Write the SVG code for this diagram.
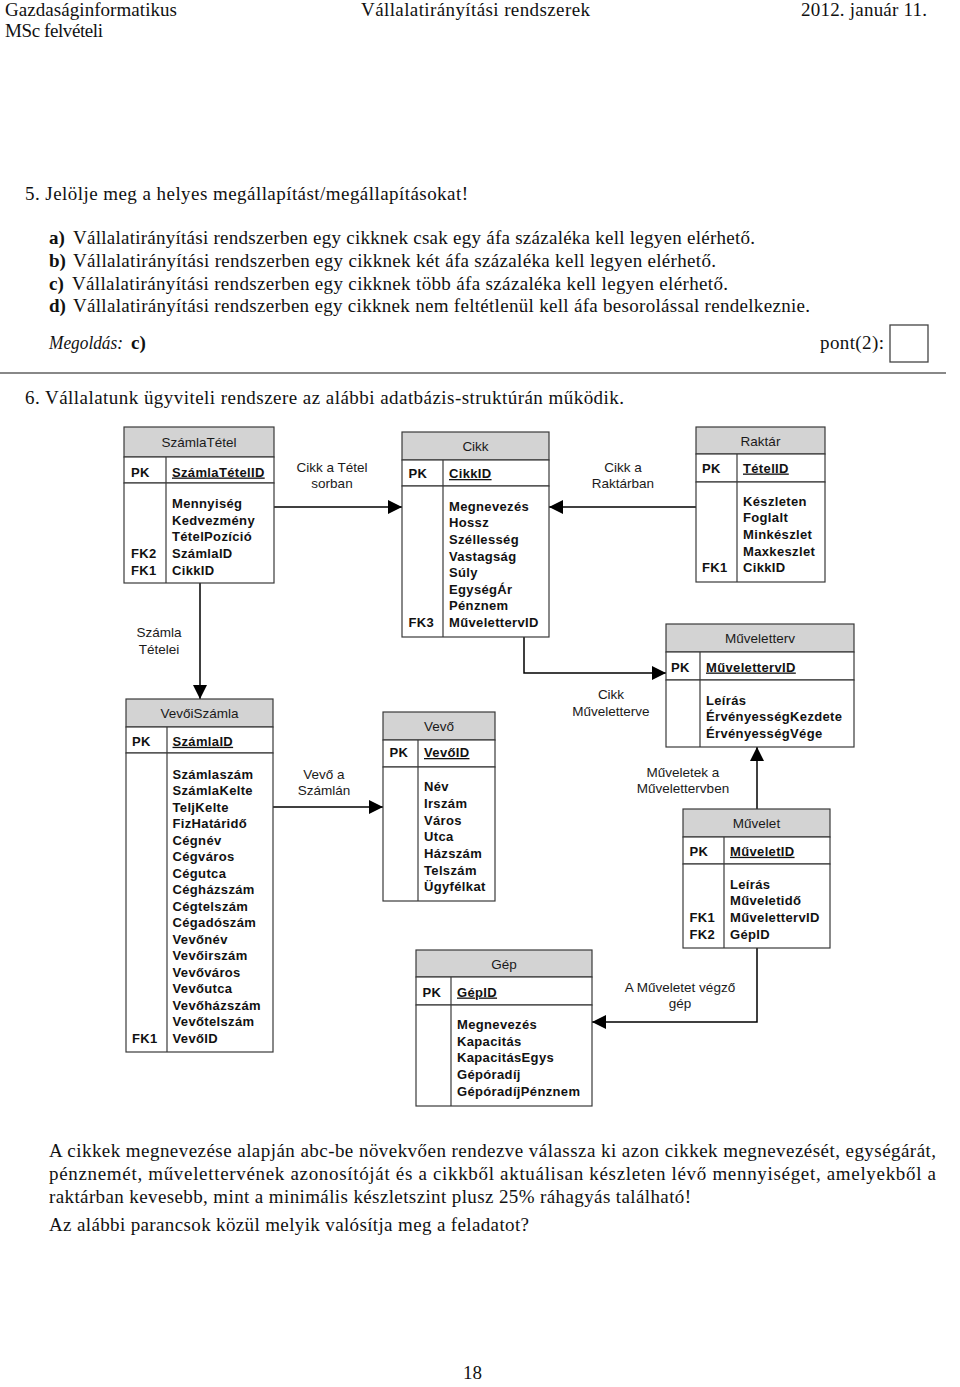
<svg xmlns="http://www.w3.org/2000/svg" width="960" height="1387" viewBox="0 0 960 1387">
<style>
.s{font-family:"Liberation Serif","Times New Roman",serif;font-size:19px;fill:#111}
.sb{font-weight:bold}
.si{font-style:italic}
.hd{fill:#d3d3d3;stroke:#3a3a3a;stroke-width:1.2}
.bx{fill:#fff;stroke:#3a3a3a;stroke-width:1.2}
.dv{stroke:#3a3a3a;stroke-width:1.2}
.ti{font-family:"Liberation Sans",Arial,sans-serif;font-size:13.5px;text-anchor:middle;fill:#1a1a1a}
.a{font-family:"Liberation Sans",Arial,sans-serif;font-size:13px;font-weight:bold;letter-spacing:0.35px;fill:#111}
.u{text-decoration:underline}
.lb{font-family:"Liberation Sans",Arial,sans-serif;font-size:13.5px;text-anchor:middle;fill:#1a1a1a}
.cn{fill:none;stroke:#000;stroke-width:1.5}
</style>
<defs>
<marker id="arr" markerUnits="userSpaceOnUse" markerWidth="14" markerHeight="14" refX="14" refY="7" orient="auto"><path d="M0,0 L14,7 L0,14 z" fill="#000"/></marker>
</defs>
<rect width="960" height="1387" fill="#fff"/>

<g id="page-text">
<text class="s" x="5" y="16" textLength="172" lengthAdjust="spacing">Gazdaságinformatikus</text>
<text class="s" x="5" y="37" textLength="98" lengthAdjust="spacing">MSc felvételi</text>
<text class="s" x="361" y="16" textLength="229" lengthAdjust="spacing">Vállalatirányítási rendszerek</text>
<text class="s" x="801" y="16" textLength="126" lengthAdjust="spacing">2012. január 11.</text>

<text class="s" x="25" y="200" textLength="443" lengthAdjust="spacing">5. Jelölje meg a helyes megállapítást/megállapításokat!</text>
<text class="s sb" x="49" y="244">a)</text>
<text class="s" x="73" y="244" textLength="682" lengthAdjust="spacing">Vállalatirányítási rendszerben egy cikknek csak egy áfa százaléka kell legyen elérhető.</text>
<text class="s sb" x="49" y="267">b)</text>
<text class="s" x="73" y="267" textLength="643" lengthAdjust="spacing">Vállalatirányítási rendszerben egy cikknek két áfa százaléka kell legyen elérhető.</text>
<text class="s sb" x="49" y="290">c)</text>
<text class="s" x="72" y="290" textLength="656" lengthAdjust="spacing">Vállalatirányítási rendszerben egy cikknek több áfa százaléka kell legyen elérhető.</text>
<text class="s sb" x="49" y="312">d)</text>
<text class="s" x="73" y="312" textLength="737" lengthAdjust="spacing">Vállalatirányítási rendszerben egy cikknek nem feltétlenül kell áfa besorolással rendelkeznie.</text>
<text class="s si" x="49" y="349" textLength="74" lengthAdjust="spacingAndGlyphs">Megoldás:</text>
<text class="s sb" x="131" y="349">c)</text>
<text class="s" x="820" y="349" textLength="64" lengthAdjust="spacing">pont(2):</text>
<rect x="890" y="325" width="38" height="37" fill="#fff" stroke="#444" stroke-width="1.3"/>
<line x1="0" y1="373" x2="946" y2="373" stroke="#888" stroke-width="2"/>
<text class="s" x="25" y="404" textLength="599" lengthAdjust="spacing">6. Vállalatunk ügyviteli rendszere az alábbi adatbázis-struktúrán működik.</text>

<text class="s" x="49" y="1157" textLength="887" lengthAdjust="spacing">A cikkek megnevezése alapján abc-be növekvően rendezve válassza ki azon cikkek megnevezését, egységárát,</text>
<text class="s" x="49" y="1180" textLength="887" lengthAdjust="spacing">pénznemét, művelettervének azonosítóját és a cikkből aktuálisan készleten lévő mennyiséget, amelyekből a</text>
<text class="s" x="49" y="1203" textLength="642" lengthAdjust="spacing">raktárban kevesebb, mint a minimális készletszint plusz 25% ráhagyás található!</text>
<text class="s" x="49" y="1231" textLength="480" lengthAdjust="spacing">Az alábbi parancsok közül melyik valósítja meg a feladatot?</text>
<text class="s" x="463" y="1379">18</text>
</g>

<g id="connectors">
<path class="cn" d="M274,507 H402" marker-end="url(#arr)"/>
<path class="cn" d="M696,507 H549" marker-end="url(#arr)"/>
<path class="cn" d="M524,637 V673 H666" marker-end="url(#arr)"/>
<path class="cn" d="M200,583 V699" marker-end="url(#arr)"/>
<path class="cn" d="M273,807 H383" marker-end="url(#arr)"/>
<path class="cn" d="M757,809 V747" marker-end="url(#arr)"/>
<path class="cn" d="M757,948 V1022 H592" marker-end="url(#arr)"/>
<text class="lb" x="332" y="471.5">Cikk a Tétel</text>
<text class="lb" x="332" y="487.5">sorban</text>
<text class="lb" x="623" y="471.5">Cikk a</text>
<text class="lb" x="623" y="487.5">Raktárban</text>
<text class="lb" x="159" y="636.5">Számla</text>
<text class="lb" x="159" y="654">Tételei</text>
<text class="lb" x="324" y="779">Vevő a</text>
<text class="lb" x="324" y="795">Számlán</text>
<text class="lb" x="611" y="699">Cikk</text>
<text class="lb" x="611" y="715.5">Műveletterve</text>
<text class="lb" x="683" y="776.5">Műveletek a</text>
<text class="lb" x="683" y="793">Művelettervben</text>
<text class="lb" x="680" y="992">A Műveletet végző</text>
<text class="lb" x="680" y="1007.5">gép</text>
</g>

<g id="szamlatetel">
<rect class="hd" x="124" y="427" width="150" height="30"/>
<rect class="bx" x="124" y="457" width="150" height="26"/>
<rect class="bx" x="124" y="483" width="150" height="100"/>
<line class="dv" x1="166" y1="457" x2="166" y2="583"/>
<text class="ti" x="199" y="446.5">SzámlaTétel</text>
<text class="a" x="131" y="476.5">PK</text>
<text class="a u" x="172" y="476.5">SzámlaTételID</text>
<text class="a" x="172" y="508">Mennyiség<tspan x="172" dy="16.7">Kedvezmény</tspan><tspan x="172" dy="16.7">TételPozíció</tspan><tspan x="172" dy="16.7">SzámlaID</tspan><tspan x="172" dy="16.7">CikkID</tspan></text>
<text class="a" x="131" y="558.1">FK2<tspan x="131" dy="16.7">FK1</tspan></text>
</g>

<g id="cikk">
<rect class="hd" x="402" y="432" width="147" height="28"/>
<rect class="bx" x="402" y="460" width="147" height="26"/>
<rect class="bx" x="402" y="486" width="147" height="151"/>
<line class="dv" x1="443" y1="460" x2="443" y2="637"/>
<text class="ti" x="475.5" y="450.5">Cikk</text>
<text class="a" x="408.5" y="478">PK</text>
<text class="a u" x="449" y="478">CikkID</text>
<text class="a" x="449" y="510.7">Megnevezés<tspan x="449" dy="16.62">Hossz</tspan><tspan x="449" dy="16.62">Széllesség</tspan><tspan x="449" dy="16.62">Vastagság</tspan><tspan x="449" dy="16.62">Súly</tspan><tspan x="449" dy="16.62">EgységÁr</tspan><tspan x="449" dy="16.62">Pénznem</tspan><tspan x="449" dy="16.62">MűvelettervID</tspan></text>
<text class="a" x="408.5" y="627">FK3</text>
</g>

<g id="raktar">
<rect class="hd" x="696" y="427" width="129" height="27"/>
<rect class="bx" x="696" y="454" width="129" height="28"/>
<rect class="bx" x="696" y="482" width="129" height="100"/>
<line class="dv" x1="737" y1="454" x2="737" y2="582"/>
<text class="ti" x="760.5" y="445.5">Raktár</text>
<text class="a" x="702" y="472.5">PK</text>
<text class="a u" x="743" y="472.5">TételID</text>
<text class="a" x="743" y="505.7">Készleten<tspan x="743" dy="16.67">Foglalt</tspan><tspan x="743" dy="16.67">Minkészlet</tspan><tspan x="743" dy="16.67">Maxkeszlet</tspan><tspan x="743" dy="16.67">CikkID</tspan></text>
<text class="a" x="702" y="572.4">FK1</text>
</g>

<g id="muveletterv">
<rect class="hd" x="666" y="624" width="188" height="28"/>
<rect class="bx" x="666" y="652" width="188" height="28"/>
<rect class="bx" x="666" y="680" width="188" height="67"/>
<line class="dv" x1="700" y1="652" x2="700" y2="747"/>
<text class="ti" x="760" y="643">Műveletterv</text>
<text class="a" x="671" y="671.5">PK</text>
<text class="a u" x="706" y="671.5">MűvelettervID </text>
<text class="a" x="706" y="704.7">Leírás<tspan x="706" dy="16.5">ÉrvényességKezdete</tspan><tspan x="706" dy="16.5">ÉrvényességVége</tspan></text>
</g>

<g id="vevoiszamla">
<rect class="hd" x="126" y="699" width="147" height="28"/>
<rect class="bx" x="126" y="727" width="147" height="26"/>
<rect class="bx" x="126" y="753" width="147" height="299"/>
<line class="dv" x1="167" y1="727" x2="167" y2="1052"/>
<text class="ti" x="199.5" y="717.5">VevőiSzámla</text>
<text class="a" x="132" y="745.8">PK</text>
<text class="a u" x="172.5" y="745.8">SzámlaID</text>
<text class="a" x="172.5" y="778.5">Számlaszám<tspan x="172.5" dy="16.5">SzámlaKelte</tspan><tspan x="172.5" dy="16.5">TeljKelte</tspan><tspan x="172.5" dy="16.5">FizHatáridő</tspan><tspan x="172.5" dy="16.5">Cégnév</tspan><tspan x="172.5" dy="16.5">Cégváros</tspan><tspan x="172.5" dy="16.5">Cégutca</tspan><tspan x="172.5" dy="16.5">Cégházszám</tspan><tspan x="172.5" dy="16.5">Cégtelszám</tspan><tspan x="172.5" dy="16.5">Cégadószám</tspan><tspan x="172.5" dy="16.5">Vevőnév</tspan><tspan x="172.5" dy="16.5">Vevőirszám</tspan><tspan x="172.5" dy="16.5">Vevőváros</tspan><tspan x="172.5" dy="16.5">Vevőutca</tspan><tspan x="172.5" dy="16.5">Vevőházszám</tspan><tspan x="172.5" dy="16.5">Vevőtelszám</tspan><tspan x="172.5" dy="16.5">VevőID</tspan></text>
<text class="a" x="132" y="1042.5">FK1</text>
</g>

<g id="vevo">
<rect class="hd" x="383" y="712" width="112" height="28"/>
<rect class="bx" x="383" y="740" width="112" height="27"/>
<rect class="bx" x="383" y="767" width="112" height="134"/>
<line class="dv" x1="418" y1="740" x2="418" y2="901"/>
<text class="ti" x="439" y="730.5">Vevő</text>
<text class="a" x="389.5" y="757">PK</text>
<text class="a u" x="424" y="757">VevőID</text>
<text class="a" x="424" y="791.4">Név<tspan x="424" dy="16.67">Irszám</tspan><tspan x="424" dy="16.67">Város</tspan><tspan x="424" dy="16.67">Utca</tspan><tspan x="424" dy="16.67">Házszám</tspan><tspan x="424" dy="16.67">Telszám</tspan><tspan x="424" dy="16.67">Ügyfélkat</tspan></text>
</g>

<g id="gep">
<rect class="hd" x="416" y="950" width="176" height="27"/>
<rect class="bx" x="416" y="977" width="176" height="28"/>
<rect class="bx" x="416" y="1005" width="176" height="101"/>
<line class="dv" x1="451" y1="977" x2="451" y2="1106"/>
<text class="ti" x="504" y="968.5">Gép</text>
<text class="a" x="422.5" y="996.5">PK</text>
<text class="a u" x="457" y="996.5">GépID</text>
<text class="a" x="457" y="1029">Megnevezés<tspan x="457" dy="16.67">Kapacitás</tspan><tspan x="457" dy="16.67">KapacitásEgys</tspan><tspan x="457" dy="16.67">Gépóradíj</tspan><tspan x="457" dy="16.67">GépóradíjPénznem</tspan></text>
</g>

<g id="muvelet">
<rect class="hd" x="683" y="809" width="147" height="28"/>
<rect class="bx" x="683" y="837" width="147" height="27"/>
<rect class="bx" x="683" y="864" width="147" height="84"/>
<line class="dv" x1="724" y1="837" x2="724" y2="948"/>
<text class="ti" x="756.5" y="828">Művelet</text>
<text class="a" x="689.5" y="855.8">PK</text>
<text class="a u" x="730" y="855.8">MűveletID</text>
<text class="a" x="730" y="888.7">Leírás<tspan x="730" dy="16.67">Műveletidő</tspan><tspan x="730" dy="16.67">MűvelettervID</tspan><tspan x="730" dy="16.67">GépID</tspan></text>
<text class="a" x="689.5" y="922">FK1<tspan x="689.5" dy="16.67">FK2</tspan></text>
</g>
</svg>
